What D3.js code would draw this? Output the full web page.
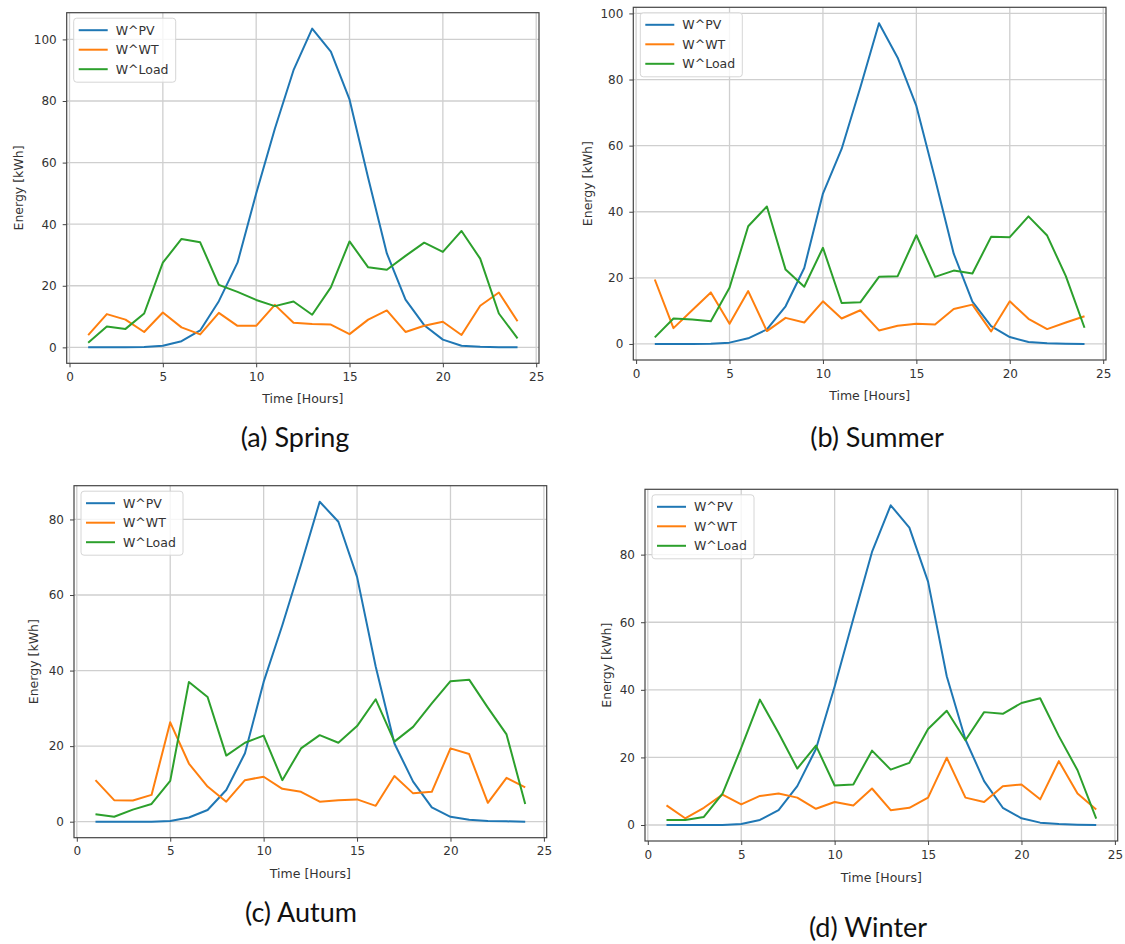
<!DOCTYPE html>
<html>
<head>
<meta charset="utf-8">
<script src="https://cdn.jsdelivr.net/npm/d3@7"></script>
<style>
    body { margin: 0; background: #fff; }
    .tick text { font-family: "DejaVu Sans", sans-serif; font-size: 12px; fill: #333; }
    .axisLabel { font-family: "DejaVu Sans", sans-serif; font-size: 12.5px; fill: #333; }
    .legendText { font-family: "DejaVu Sans", sans-serif; font-size: 12.5px; fill: #333; }
    .caption { font-family: "Lato", "Open Sans", sans-serif; font-size: 27px; fill: #111; }
</style>
</head>
<body>
<script>

// hours of the day (x values)
const hours = [1, 2, 3, 4, 5, 6, 7, 8, 9, 10, 11, 12, 13, 14, 15, 16, 17, 18, 19, 20, 21, 22, 23, 24];
const seriesNames = ["W^PV", "W^WT", "W^Load"];
const captions = ["(a) Spring", "(b) Summer", "(c) Autum", "(d) Winter"];

// Spring
const springPV   = [0, 0, 0, 0.1, 0.5, 2, 5.5, 15, 27.5, 50, 71, 90, 103.5, 96, 80.5, 55, 30.5, 15.5, 7.2, 2.5, 0.5, 0.2, 0.05, 0];
const springWT   = [4, 10.8, 9, 5, 11.3, 6.5, 4.2, 11.2, 7, 7, 13.8, 8, 7.6, 7.4, 4.3, 9, 12, 5, 7, 8.3, 4, 13.5, 17.8, 8.5];
const springLoad = [1.5, 6.8, 6, 11, 27.5, 35.2, 34.1, 20.3, 18, 15.4, 13.4, 14.9, 10.6, 19.5, 34.4, 26, 25.2, 29.7, 34, 31, 37.8, 28.8, 11, 2.9];

// Summer
const summerPV   = [0, 0, 0, 0.1, 0.4, 1.7, 4.4, 11.4, 23, 45.5, 59, 77.6, 97, 86.6, 72, 50, 27.3, 12.8, 5.4, 2.1, 0.6, 0.2, 0.1, 0];
const summerWT   = [19.5, 4.8, 10.2, 15.6, 6.1, 16, 3.9, 7.9, 6.5, 12.9, 7.7, 10.2, 4.1, 5.5, 6.1, 5.9, 10.6, 11.9, 3.8, 12.9, 7.6, 4.5, 6.5, 8.4];
const summerLoad = [2, 7.7, 7.4, 6.9, 17, 35.6, 41.6, 22.5, 17.3, 29.1, 12.4, 12.6, 20.3, 20.5, 32.9, 20.3, 22.2, 21.3, 32.4, 32.3, 38.6, 32.8, 20.5, 4.9];

// Autumn
const autumnPV   = [0, 0, 0, 0, 0.2, 1.1, 3.1, 8.4, 18.1, 37, 52, 68, 84.7, 79.4, 64.8, 41, 20.7, 10.6, 3.8, 1.3, 0.5, 0.2, 0.1, 0];
const autumnWT   = [11, 5.7, 5.6, 7.1, 26.3, 15.4, 9.3, 5.3, 11, 11.9, 8.7, 7.9, 5.3, 5.7, 5.9, 4.2, 12.1, 7.5, 7.9, 19.4, 17.9, 5, 11.6, 9.1];
const autumnLoad = [2, 1.3, 3.2, 4.7, 10.8, 37, 33, 17.5, 20.9, 22.8, 11, 19.4, 22.9, 20.9, 25.3, 32.4, 21.2, 25.1, 31.3, 37.2, 37.6, 30.2, 23.1, 4.7];

// Winter
const winterPV   = [0, 0, 0, 0, 0.3, 1.5, 4.4, 11.5, 22.5, 41, 61, 80.8, 94.6, 88, 72, 44, 25.3, 13, 5.1, 2, 0.7, 0.3, 0.1, 0];
const winterWT   = [5.8, 2, 5.1, 9, 6.1, 8.6, 9.3, 8.1, 4.8, 6.8, 5.8, 10.8, 4.4, 5.1, 8.1, 19.9, 8.1, 6.8, 11.5, 12, 7.6, 18.9, 9.3, 4.6];
const winterLoad = [1.5, 1.5, 2.4, 9.3, 22.8, 37.1, 27.2, 16.7, 23.5, 11.7, 12, 22, 16.4, 18.4, 28.4, 33.8, 25.1, 33.4, 32.9, 36.1, 37.5, 26.3, 16.2, 1.9];

const seasonSeries = [
    [springPV, springWT, springLoad],
    [summerPV, summerWT, summerLoad],
    [autumnPV, autumnWT, autumnLoad],
    [winterPV, winterWT, winterLoad]
];

const colors = ["#1f77b4", "#ff7f0e", "#2ca02c"];

// frame boxes and label positions for the four panels
const panels = [
    {left: 66.7, top: 12.7, right: 539, bottom: 363.3, ylabX: 18, xlabY: 398, capX: 295, capY: 447},
    {left: 633.3, top: 7.3, right: 1106, bottom: 360, ylabX: 587, xlabY: 395, capX: 877, capY: 447},
    {left: 74, top: 485.7, right: 546.7, bottom: 837.7, ylabX: 33, xlabY: 873, capX: 301, capY: 922},
    {left: 645, top: 489.3, right: 1117.7, bottom: 841, ylabX: 606, xlabY: 877, capX: 868, capY: 937}
];

const svg = d3.select("body").append("svg")
    .attr("width", 1125)
    .attr("height", 944);

panels.forEach((p, i) => drawPanel(p, seasonSeries[i], captions[i]));

function drawPanel(p, series, caption) {
    let g = svg.append("g");

    // matplotlib style 5% margins
    let xPad = (d3.max(hours) - d3.min(hours)) * 0.05;
    let yMin = d3.min(series, s => d3.min(s));
    let yMax = d3.max(series, s => d3.max(s));
    let yPad = (yMax - yMin) * 0.05;

    let x = d3.scaleLinear()
        .domain([d3.min(hours) - xPad, d3.max(hours) + xPad])
        .range([p.left, p.right]);

    let y = d3.scaleLinear()
        .domain([yMin - yPad, yMax + yPad])
        .range([p.bottom, p.top]);

    let xTicks = x.ticks(5);
    let yTicks = y.ticks(5);

    // grid
    g.selectAll(".vgrid").data(xTicks).enter().append("line")
        .attr("x1", d => x(d)).attr("x2", d => x(d))
        .attr("y1", p.top).attr("y2", p.bottom)
        .attr("stroke", "#cfcfcf").attr("stroke-width", 1.3);

    g.selectAll(".hgrid").data(yTicks).enter().append("line")
        .attr("x1", p.left).attr("x2", p.right)
        .attr("y1", d => y(d)).attr("y2", d => y(d))
        .attr("stroke", "#cfcfcf").attr("stroke-width", 1.3);

    // series lines
    let line = d3.line()
        .x((d, j) => x(hours[j]))
        .y(d => y(d));

    series.forEach((s, k) => {
        g.append("path")
            .datum(s)
            .attr("d", line)
            .attr("fill", "none")
            .attr("stroke", colors[k])
            .attr("stroke-width", 2)
            .attr("stroke-linejoin", "round");
    });

    // frame
    g.append("rect")
        .attr("x", p.left).attr("y", p.top)
        .attr("width", p.right - p.left).attr("height", p.bottom - p.top)
        .attr("fill", "none").attr("stroke", "#444").attr("stroke-width", 1.2);

    // axes
    let xAxis = g.append("g")
        .attr("transform", `translate(0,${p.bottom})`)
        .call(d3.axisBottom(x).ticks(5).tickSize(4).tickPadding(5));
    let yAxis = g.append("g")
        .attr("transform", `translate(${p.left},0)`)
        .call(d3.axisLeft(y).ticks(5).tickSize(4).tickPadding(6));
    [xAxis, yAxis].forEach(a => {
        a.select(".domain").remove();
        a.selectAll(".tick line").attr("stroke", "#444");
        a.selectAll(".tick text").attr("font-family", null).attr("font-size", null).attr("fill", null);
    });

    // axis labels
    g.append("text")
        .attr("class", "axisLabel")
        .attr("x", (p.left + p.right) / 2)
        .attr("y", p.xlabY)
        .attr("text-anchor", "middle")
        .attr("dominant-baseline", "central")
        .text("Time [Hours]");

    g.append("text")
        .attr("class", "axisLabel")
        .attr("transform", `translate(${p.ylabX},${(p.top + p.bottom) / 2}) rotate(-90)`)
        .attr("text-anchor", "middle")
        .attr("dominant-baseline", "central")
        .text("Energy [kWh]");

    // legend
    let legend = g.append("g")
        .attr("transform", `translate(${p.left + 7},${p.top + 5.5})`);

    legend.append("rect")
        .attr("width", 102).attr("height", 64).attr("rx", 3)
        .attr("fill", "white").attr("fill-opacity", 0.8)
        .attr("stroke", "#d6d6d6").attr("stroke-width", 1);

    seriesNames.forEach((name, k) => {
        let row = legend.append("g").attr("transform", `translate(0,${12 + k * 19.5})`);
        row.append("line")
            .attr("x1", 5).attr("x2", 34)
            .attr("stroke", colors[k]).attr("stroke-width", 2);
        row.append("text")
            .attr("class", "legendText")
            .attr("x", 42)
            .attr("dominant-baseline", "central")
            .text(name);
    });

    // caption under the panel
    svg.append("text")
        .attr("class", "caption")
        .attr("x", p.capX)
        .attr("y", p.capY)
        .attr("text-anchor", "middle")
        .text(caption);
}

</script>
</body>
</html>
